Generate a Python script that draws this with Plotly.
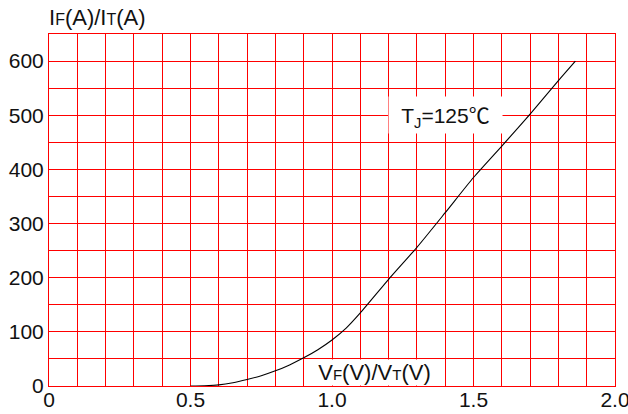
import plotly.graph_objects as go

# Forward voltage (V) and current (A), Tj = 125°C
vf = [0.50, 0.55, 0.60, 0.65, 0.70, 0.75, 0.80, 0.85, 0.90, 0.95, 1.00, 1.05, 1.10,
      1.20, 1.30, 1.40, 1.50, 1.60, 1.70, 1.80, 1.86]
i_f = [0, 0.5, 2, 6, 12, 19, 28, 39, 52, 67, 85, 107, 135,
       197, 256, 320, 385, 443, 502, 564, 600]

x_tick_vals = [round(0.1 * k, 1) for k in range(21)]
x_tick_text = ["0", "", "", "", "", "0.5", "", "", "", "", "1.0", "", "", "", "",
               "1.5", "", "", "", "", "2.0"]
y_tick_vals = [50 * k for k in range(14)]
y_tick_text = ["0", "", "100", "", "200", "", "300", "", "400", "", "500", "", "600", ""]

FONT = "Liberation Sans, Arial, sans-serif"

fig = go.Figure()
fig.add_trace(go.Scatter(x=vf, y=i_f, mode="lines",
                         line=dict(color="black", width=1.1, shape="spline", smoothing=0.6),
                         hoverinfo="skip", showlegend=False))

fig.update_layout(
    width=628, height=414,
    margin=dict(l=49, r=13, t=34, b=28),
    paper_bgcolor="white", plot_bgcolor="white",
    font=dict(family=FONT, size=21, color="#111111"),
    xaxis=dict(range=[0, 2.0], tickvals=x_tick_vals, ticktext=x_tick_text,
               showgrid=True, gridcolor="#ff0000", gridwidth=1, zeroline=False,
               showline=True, linecolor="#ff0000", linewidth=1, mirror=True,
               ticks="", ticklabelstandoff=-5, ticklabeloverflow="allow",
               automargin=False, fixedrange=True),
    yaxis=dict(range=[0, 650], tickvals=y_tick_vals, ticktext=y_tick_text,
               showgrid=True, gridcolor="#ff0000", gridwidth=1, zeroline=False,
               showline=True, linecolor="#ff0000", linewidth=1, mirror=True,
               ticks="", ticklabelstandoff=0, ticklabeloverflow="allow",
               automargin=False, fixedrange=True),
    annotations=[
        dict(text="I<span style='font-size:16px'>F</span>(A)/I<span style='font-size:16px'>T</span>(A)",
             xref="paper", yref="paper", x=-0.004, y=1.047, xanchor="left", yanchor="middle",
             showarrow=False, font=dict(size=22)),
        dict(text="T<sub>J</sub>=125<span style='font-family:Noto Sans CJK SC'>℃</span>",
             xref="x", yref="y", x=1.4, y=500,
             xanchor="center", yanchor="middle", showarrow=False,
             bgcolor="white", borderpad=0, width=113, height=36, font=dict(size=21)),
        dict(text="V<span style='font-size:15px'>F</span>(V)/V<span style='font-size:15px'>T</span>(V)",
             xref="x", yref="y", x=1.15, y=0, xanchor="center", yanchor="bottom",
             showarrow=False, bgcolor="white", borderpad=0, width=137, height=25,
             font=dict(size=22)),
    ],
)

fig.write_html("out.html", config={"displayModeBar": False},
               post_script="document.body.style.margin='0';document.body.style.overflow='hidden';")
